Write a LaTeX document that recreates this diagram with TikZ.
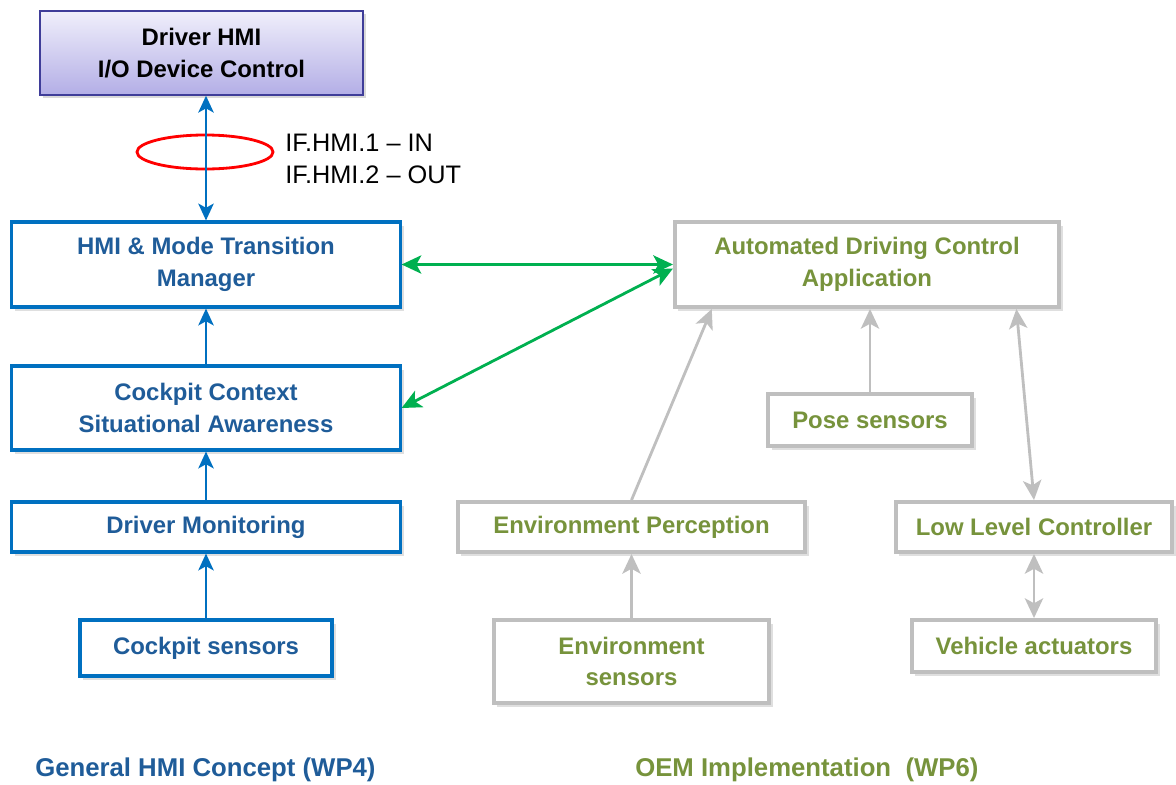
\documentclass[tikz,border=0pt]{standalone}
\usepackage{fontspec}
\setmainfont{Liberation Sans}
\usepackage{xcolor}
\usetikzlibrary{calc}
\usetikzlibrary{shapes.geometric}
\usetikzlibrary{shadows}
\usetikzlibrary{arrows.meta}
\definecolor{hmiblue}{HTML}{0070C0}
\definecolor{hmitext}{HTML}{1F5C99}
\definecolor{oemgreen}{HTML}{77933C}
\definecolor{oemgray}{HTML}{BFBFBF}
\definecolor{ifgreen}{HTML}{00B050}
\definecolor{devline}{HTML}{3F3D99}
\definecolor{devtop}{HTML}{F0EFFB}
\definecolor{devbot}{HTML}{B3AEE6}
\tikzset{>={Stealth[length=12pt,width=11pt,inset=3pt]}}
\tikzset{
    boxfont/.style = {font=\bfseries\fontsize{17}{22.5}\selectfont, align=center, inner sep=0pt},
    devbox/.style = {boxfont, draw=devline, line width=1pt, top color=devtop, bottom color=devbot,
        drop shadow={opacity=0.3, shadow xshift=2pt, shadow yshift=-2pt}},
    hmibox/.style = {boxfont, draw=hmiblue, line width=2.2pt, fill=white, text=hmitext,
        drop shadow={opacity=0.25, shadow xshift=2.5pt, shadow yshift=-2.5pt}},
    oembox/.style = {boxfont, draw=oemgray, line width=2.8pt, fill=white, text=oemgreen,
        drop shadow={opacity=0.25, shadow xshift=2.5pt, shadow yshift=-2.5pt}},
    hmiarrow/.style = {draw=hmiblue, line width=1.4pt, ->},
    ifarrow/.style = {draw=ifgreen, line width=2pt, <->, >={Stealth[length=14pt,width=13pt,inset=3.5pt]}},
    oemarrow/.style = {draw=oemgray, line width=2pt, ->, >={Stealth[length=14pt,width=13pt,inset=3.5pt]}},
    footer/.style = {font=\bfseries\fontsize{18.3}{20}\selectfont, anchor=west, inner sep=0pt}
}
\begin{document}
\begin{tikzpicture}[x=0.025cm, y=-0.025cm]
    \useasboundingbox (0,0) rectangle (1176,784);
    \node [devbox, minimum width=8.075cm, minimum height=2.1cm] (devctrl) at (201.5,53) {Driver HMI\\I/O Device Control};
    \node [hmibox, minimum width=9.7cm, minimum height=2.125cm] (mtm) at (206,264.5) {HMI \& Mode Transition\\Manager};
    \node [hmibox, minimum width=9.7cm, minimum height=2.1cm] (context) at (206,408) {Cockpit Context\\Situational Awareness};
    \node [hmibox, minimum width=9.7cm, minimum height=1.25cm] (monitor) at (206,527) {Driver Monitoring};
    \node [hmibox, minimum width=6.3cm, minimum height=1.4cm] (csensors) at (206,648) {Cockpit sensors};
    \node [oembox, minimum width=9.6cm, minimum height=2.125cm] (adca) at (867,264.5) {Automated Driving Control\\Application};
    \node [oembox, minimum width=5.1cm, minimum height=1.3cm] (pose) at (870,420) {Pose sensors};
    \node [oembox, minimum width=8.675cm, minimum height=1.25cm] (envperc) at (631.5,527) {Environment Perception};
    \node [oembox, minimum width=6.9cm, minimum height=1.25cm] (llc) at (1034,527) {Low Level Controller};
    \node [oembox, minimum width=6.875cm, minimum height=2.075cm] (envsens) at (631.5,661.5) {Environment\\sensors};
    \node [oembox, minimum width=6.1cm, minimum height=1.3cm] (vact) at (1034,646) {Vehicle actuators};
    \node [draw=red, line width=2pt, ellipse, minimum width=3.4cm, minimum height=0.85cm] (ring) at (205,152) {};
    \node [anchor=west, align=left, font=\fontsize{18}{22.8}\selectfont, inner sep=0pt] (iflabel) at (285,159) {IF.HMI.1 -- IN\\IF.HMI.2 -- OUT};
    \node [footer, text=hmitext] (wp4) at (35,770) {General HMI Concept (WP4)};
    \node [footer, text=oemgreen] (wp6) at (635,770) {OEM Implementation \ (WP6)};
    \draw [hmiarrow, <->] (devctrl.south -| mtm.north) -- (mtm.north);
    \draw [hmiarrow] (context.north) -- (mtm.south);
    \draw [hmiarrow] (monitor.north) -- (context.south);
    \draw [hmiarrow] (csensors.north) -- (monitor.south);
    \draw [ifarrow] (mtm.east) -- (adca.west);
    \draw [ifarrow] (context.east) -- ($(adca.west)+(0,4)$);
    \draw [oemarrow] (envperc.north) -- ($(adca.south west)!0.1!(adca.south east)$);
    \draw [oemarrow] (pose.north) -- (pose.north |- adca.south);
    \draw [oemarrow, <->] (llc.north) -- ($(adca.south west)!0.885!(adca.south east)$);
    \draw [oemarrow] (envsens.north) -- (envperc.south);
    \draw [oemarrow, <->] (vact.north) -- (llc.south);
\end{tikzpicture}
\end{document}
